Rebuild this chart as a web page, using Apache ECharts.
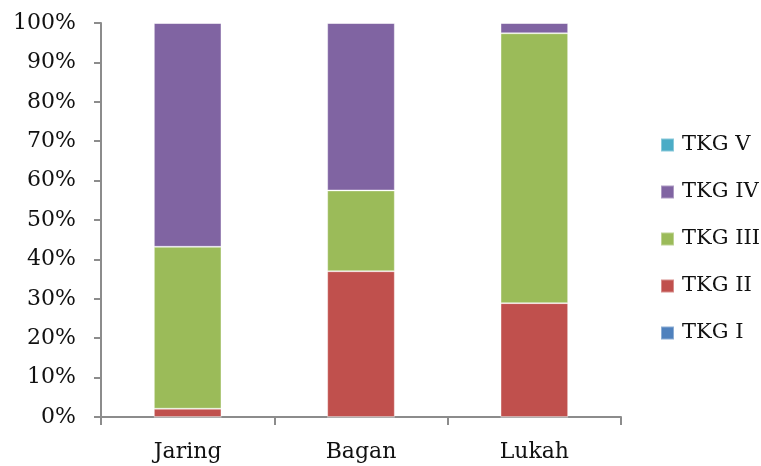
<!DOCTYPE html>
<html>
<head>
<meta charset="utf-8">
<script src="https://cdn.jsdelivr.net/npm/echarts@6/dist/echarts.min.js"></script>
<style>
  html, body { margin: 0; padding: 0; background: #fff; }
  #chart { width: 761px; height: 466px; }
</style>
</head>
<body>
<div id="chart"></div>
<script>
// Share of each TKG class per fishing gear (percent of total)
const categories = ['Jaring', 'Bagan', 'Lukah'];
const seriesNames = ['TKG I', 'TKG II', 'TKG III', 'TKG IV', 'TKG V'];
const tkgI   = [0, 0, 0];
const tkgII  = [2.1, 37.0, 28.9];
const tkgIII = [41.1, 20.5, 68.5];
const tkgIV  = [56.8, 42.5, 2.6];
const tkgV   = [0, 0, 0];
const yTicks = [0, 10, 20, 30, 40, 50, 60, 70, 80, 90, 100];

const seriesValues = [tkgI, tkgII, tkgIII, tkgIV, tkgV];
const colors = ['#4F81BD', '#C0504D', '#9BBB59', '#8064A2', '#4BACC6'];
const font = 'DejaVu Serif';
const axisGray = '#8c8c8c';

const chart = echarts.init(document.getElementById('chart'), null, { renderer: 'canvas' });

chart.setOption({
  animation: false,
  backgroundColor: '#fff',
  grid: { left: 101, right: 140, top: 23, bottom: 49 },
  legend: {
    orient: 'vertical',
    left: 660,
    top: 133,
    padding: 0,
    itemWidth: 13,
    itemHeight: 13,
    itemGap: 23,
    data: seriesNames.slice().reverse(),
    textStyle: { fontFamily: font, fontSize: 21, color: '#111', lineHeight: 24, padding: [0, 0, 0, 3] },
    icon: 'rect'
  },
  xAxis: {
    type: 'category',
    data: categories,
    axisLine: { lineStyle: { color: axisGray, width: 2 } },
    axisTick: { show: true, length: 8, lineStyle: { color: axisGray, width: 2 } },
    axisLabel: { fontFamily: font, fontSize: 22, color: '#111', margin: 24 }
  },
  yAxis: {
    type: 'value',
    min: yTicks[0],
    max: yTicks[yTicks.length - 1],
    interval: yTicks[1] - yTicks[0],
    axisLine: { show: true, lineStyle: { color: axisGray, width: 2 } },
    axisTick: { show: true, length: 7, lineStyle: { color: axisGray, width: 2 } },
    splitLine: { show: false },
    axisLabel: {
      fontFamily: font, fontSize: 22, color: '#111', margin: 25,
      formatter: v => v + '%'
    }
  },
  series: seriesNames.map((name, i) => ({
    name,
    type: 'bar',
    stack: 'total',
    barWidth: '39%',
    data: seriesValues[i],
    itemStyle: { color: colors[i], borderColor: 'rgba(255,255,255,0.35)', borderWidth: 1 }
  }))
});
</script>
</body>
</html>
